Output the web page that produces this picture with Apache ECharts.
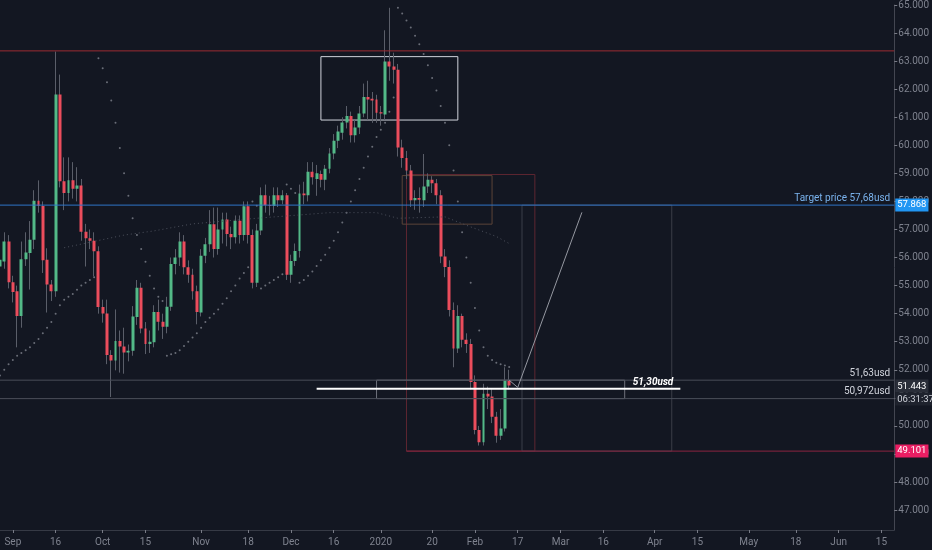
<!DOCTYPE html>
<html>
<head>
<meta charset="utf-8">
<script src="https://cdn.jsdelivr.net/npm/echarts@6/dist/echarts.min.js"></script>
<style>
html, body { margin: 0; padding: 0; background: #131722; }
#chart { width: 932px; height: 550px; }
</style>
</head>
<body>
<div id="chart"></div>
<script>
// daily candles, 2019-08-28 .. 2020-02-13
var openVals = [
	55.68, 55.86, 56.57, 55.12, 54.80, 53.92, 55.94, 56.16, 56.63, 58.02,
	57.84, 55.92, 55.04, 54.80, 61.81, 58.72, 58.30, 58.75, 58.45, 58.57,
	56.92, 56.69, 56.60, 56.22, 54.24, 54.01, 52.53, 52.33, 53.03, 52.83,
	52.62, 52.68, 53.88, 54.92, 53.47, 52.92, 52.98, 54.06, 53.71, 53.53,
	54.25, 55.77, 56.00, 56.57, 55.65, 55.39, 54.80, 54.04, 56.06, 56.47,
	57.19, 56.30, 57.00, 57.36, 56.84, 56.72, 57.31, 56.80, 57.83, 56.80,
	55.10, 56.96, 58.22, 57.86, 57.84, 58.22, 58.04, 58.22, 55.39, 55.88,
	56.23, 58.28, 58.22, 59.06, 58.80, 58.98, 58.77, 59.16, 59.71, 60.16,
	60.45, 60.81, 61.04, 60.36, 60.63, 61.13, 61.72, 61.66, 61.63, 61.18,
	61.10, 62.99, 62.81, 62.69, 59.92, 59.55, 59.10, 58.04, 58.12, 58.04,
	58.53, 58.77, 58.65, 58.22, 56.04, 55.66, 54.13, 52.76, 53.92, 53.07,
	52.92, 51.56, 49.85, 49.42, 51.15, 51.05, 50.33, 49.65, 49.91, 51.62
];
var closeVals = [
	55.92, 56.57, 55.12, 54.77, 53.92, 55.94, 56.18, 56.63, 58.02, 57.84,
	55.90, 55.04, 54.80, 61.81, 58.72, 58.30, 58.75, 58.45, 58.57, 56.92,
	56.69, 56.60, 56.22, 54.24, 54.01, 52.53, 52.33, 53.03, 52.83, 52.62,
	52.68, 53.90, 54.92, 53.47, 52.92, 53.00, 54.06, 53.71, 53.53, 54.25,
	55.77, 56.00, 56.57, 55.65, 55.39, 54.80, 54.06, 56.06, 56.47, 57.19,
	56.30, 57.00, 57.36, 56.84, 56.72, 57.31, 56.80, 57.83, 56.80, 55.10,
	56.96, 58.22, 57.86, 57.84, 58.22, 58.04, 58.22, 55.39, 55.88, 56.23,
	58.28, 58.22, 59.06, 58.86, 59.00, 58.77, 59.16, 59.71, 60.16, 60.49,
	60.81, 61.04, 60.36, 60.63, 61.13, 61.72, 61.63, 61.60, 61.16, 61.13,
	62.99, 62.81, 62.69, 59.92, 59.55, 59.10, 58.04, 58.12, 58.06, 58.53,
	58.77, 58.65, 58.22, 56.04, 55.66, 54.13, 52.76, 53.92, 53.07, 52.92,
	51.56, 49.85, 49.42, 51.15, 51.05, 50.33, 49.65, 49.91, 51.62, 51.44
];
var lowVals = [
	55.40, 55.60, 54.90, 54.40, 52.80, 53.50, 55.70, 54.86, 56.30, 57.60,
	55.45, 54.04, 54.45, 54.60, 58.50, 57.69, 58.00, 58.10, 58.00, 56.60,
	55.68, 56.30, 55.33, 54.00, 53.68, 52.20, 51.03, 51.98, 51.90, 51.86,
	52.30, 52.50, 53.60, 53.30, 52.56, 52.60, 52.80, 53.40, 53.10, 53.30,
	54.10, 55.40, 55.70, 55.40, 55.10, 54.50, 53.62, 53.90, 55.80, 56.20,
	56.00, 56.10, 56.50, 56.40, 56.30, 56.50, 56.50, 56.60, 56.50, 54.90,
	54.95, 56.80, 57.60, 57.50, 57.60, 57.80, 57.90, 55.20, 55.10, 55.70,
	56.00, 57.90, 58.00, 58.60, 58.20, 58.50, 58.40, 59.00, 59.50, 59.90,
	60.20, 60.60, 60.10, 60.10, 60.40, 61.00, 60.90, 60.80, 60.80, 60.70,
	60.90, 62.30, 62.20, 59.60, 59.20, 58.80, 57.80, 57.70, 57.60, 57.80,
	58.30, 58.30, 57.90, 55.80, 55.30, 53.90, 52.09, 52.60, 52.80, 52.60,
	51.30, 49.70, 49.30, 49.30, 50.60, 50.10, 49.40, 49.50, 49.80, 51.30
];
var highVals = [
	56.10, 56.90, 56.80, 55.35, 55.00, 56.57, 56.90, 57.30, 58.40, 58.75,
	58.00, 56.33, 55.20, 63.34, 62.52, 59.57, 59.57, 59.40, 59.22, 58.80,
	57.20, 57.00, 56.90, 56.40, 54.50, 54.50, 52.70, 54.15, 53.40, 53.50,
	52.90, 54.27, 55.20, 55.10, 53.70, 53.40, 54.30, 54.50, 54.00, 54.60,
	56.00, 56.30, 56.90, 56.80, 55.90, 55.60, 55.00, 56.30, 56.70, 57.69,
	57.78, 57.78, 57.60, 57.60, 57.10, 57.50, 57.50, 58.00, 58.00, 57.00,
	57.20, 58.50, 58.60, 58.20, 58.50, 58.50, 58.40, 58.30, 56.10, 56.50,
	58.60, 58.70, 59.40, 59.40, 59.30, 59.10, 59.30, 59.90, 60.40, 60.70,
	61.00, 61.40, 61.20, 60.90, 61.40, 62.20, 62.30, 61.90, 61.80, 61.40,
	64.10, 64.90, 63.30, 62.90, 60.20, 59.80, 59.30, 58.40, 58.50, 59.69,
	59.00, 58.90, 58.80, 58.40, 56.30, 55.90, 54.40, 54.30, 54.00, 53.30,
	53.10, 51.80, 50.00, 51.50, 51.40, 51.30, 50.50, 50.60, 52.09, 52.00
];
// parabolic SAR dots, one per candle
var sarVals = [
	51.8, 52.0, 52.2, 52.35, 52.5, 52.6, 52.7, 52.8, 52.95, 53.1,
	53.3, 53.5, 53.7, 54.0, 54.3, 54.5, 54.6, 54.7, 54.85, 55.0,
	55.1, 55.2, 55.3, 63.1, 62.75, 62.25, 61.6, 60.8, 59.9, 59.0,
	58.2, 57.4, 56.8, 56.3, 55.85, 55.35, 54.9, 54.6, 54.45, 52.5,
	52.55, 52.6, 52.7, 52.85, 53.0, 53.15, 53.3, 53.5, 53.7, 53.85,
	54.0, 54.15, 54.35, 54.55, 54.8, 55.0, 55.25, 55.45, 55.65, 58.0,
	57.85, 54.9, 55.0, 55.1, 55.2, 55.3, 55.4, 58.6, 58.45, 58.3,
	55.1, 55.2, 55.35, 55.5, 55.7, 55.9, 56.1, 56.35, 56.6, 56.9,
	57.25, 57.6, 58.0, 58.4, 58.8, 59.2, 59.6, 59.95, 60.3, 60.55,
	60.8, 61.2, 61.7, 64.9, 64.7, 64.45, 64.2, 63.9, 63.6, 63.25,
	62.85, 62.4, 61.95, 61.4, 60.8, 60.0, 59.1, 58.0, 56.9, 56.0,
	55.1, 54.2, 53.4, 52.8, 52.5, 52.35, 52.25, 52.2, 52.15, 52.1
];
// slow moving average (dotted), read at a few dates
var maDates = ['2019-09-18', '2019-10-08', '2019-10-17', '2019-10-30', '2019-11-20', '2019-12-13',
	'2019-12-31', '2020-01-08', '2020-01-23', '2020-01-30', '2020-02-10', '2020-02-13'];
var maVals = [56.35, 56.8, 56.95, 57.2, 57.4, 57.6, 57.6, 57.4, 57.45, 57.15, 56.75, 56.5];

var tickDates = ['2019-09-02', '2019-09-16', '2019-10-01', '2019-10-15', '2019-11-01', '2019-11-18',
	'2019-12-02', '2019-12-16', '2020-01-02', '2020-01-20', '2020-02-03', '2020-02-17', '2020-03-02',
	'2020-03-16', '2020-04-01', '2020-04-15', '2020-05-01', '2020-05-18', '2020-06-01', '2020-06-15'];
var tickTexts = ['Sep', '16', 'Oct', '15', 'Nov', '18', 'Dec', '16', '2020', '20', 'Feb', '17', 'Mar',
	'16', 'Apr', '15', 'May', '18', 'Jun', '15'];

// drawn levels
var resistanceLevel = 63.365;
var targetLevel = 57.868;
var upperBoxLevel = 51.63;
var lowerBoxLevel = 50.972;
var entryLevel = 51.32;
var lastPrice = 51.443;
var supportLevel = 49.101;

// trading days: weekdays without the two exchange holidays
var holidays = ['2019-12-25', '2020-01-01'];
var dates = [];
var day = new Date(Date.UTC(2019, 7, 28));
var lastDay = new Date(Date.UTC(2020, 5, 18));
while (day <= lastDay) {
	var wd = day.getUTCDay();
	var s = day.toISOString().slice(0, 10);
	if (wd !== 0 && wd !== 6 && holidays.indexOf(s) < 0) dates.push(s);
	day.setUTCDate(day.getUTCDate() + 1);
}
var firstDate = dates[0];
var endDate = dates[dates.length - 1];

var candleData = [];
for (var i = 0; i < openVals.length; i++) {
	candleData.push([openVals[i], closeVals[i], lowVals[i], highVals[i]]);
}
var maData = [];
for (var j = 0; j < maDates.length; j++) {
	maData.push([maDates[j], maVals[j]]);
}

function isTick(idx, value) {
	return tickDates.indexOf(value) >= 0;
}

function box(d1, p1, d2, p2, color) {
	return [
		{ coord: [d1, p1], itemStyle: { color: 'rgba(0,0,0,0)', borderColor: color, borderWidth: 1 } },
		{ coord: [d2, p2] }
	];
}

var textFont = 'Roboto';

// one drawn segment as its own line series; endLabel carries the text
function drawing(d1, p1, d2, p2, color, width, endLabel) {
	return {
		type: 'line',
		data: [[d1, p1], [d2, p2]],
		symbol: 'none',
		silent: true,
		clip: false,
		z: 4,
		lineStyle: { color: color, width: width, type: 'solid' },
		endLabel: endLabel || { show: false }
	};
}
// price tag on the axis
function tag(text, bg) {
	return { show: true, distance: 1, formatter: text, color: '#ffffff', backgroundColor: bg,
		padding: [2, 2, 1, 2], fontSize: 9.5, fontFamily: textFont };
}
// text sitting on a line, right aligned to its end
function note(text, color, extra) {
	var l = { show: true, distance: 0, align: 'right', verticalAlign: 'bottom', offset: [-4, -2],
		formatter: text, color: color, fontSize: 10, fontFamily: textFont };
	for (var k in extra) l[k] = extra[k];
	return l;
}
var clear = 'rgba(0,0,0,0)';

var chart = echarts.init(document.getElementById('chart'));
var option = {
	backgroundColor: '#131722',
	animation: false,
	grid: { left: 0, right: 32, top: 0, bottom: 20 },
	xAxis: {
		type: 'category',
		data: dates,
		boundaryGap: false,
		axisLine: { lineStyle: { color: '#363a45' } },
		axisTick: { show: true, interval: isTick, length: 3, lineStyle: { color: '#787b86' } },
		axisLabel: {
			interval: isTick,
			formatter: function (v) { return tickTexts[tickDates.indexOf(v)]; },
			color: '#7f838f',
			fontSize: 10,
			fontFamily: textFont,
			margin: 7
		},
		splitLine: { show: false }
	},
	yAxis: {
		type: 'value',
		position: 'right',
		min: 46.29,
		max: 65.0,
		minInterval: 1,
		maxInterval: 1,
		axisLine: { show: true, lineStyle: { color: '#434651' } },
		axisTick: { show: true, length: 3, lineStyle: { color: '#787b86' } },
		axisLabel: {
			showMinLabel: false,
			formatter: function (v) { return v.toFixed(3); },
			color: '#7f838f',
			fontSize: 10,
			fontFamily: textFont,
			margin: 4
		},
		splitLine: { show: false }
	},
	series: [
		{
			// wicks
			type: 'candlestick',
			data: candleData,
			barWidth: 1,
			silent: true,
			itemStyle: {
				color: '#5a5e69', color0: '#5a5e69',
				borderColor: '#5a5e69', borderColor0: '#5a5e69', borderWidth: 1
			}
		},
		{
			type: 'line',
			data: maData,
			symbol: 'none',
			silent: true,
			lineStyle: { color: '#4c505c', width: 1, type: [1, 3] }
		},
		{
			type: 'scatter',
			data: sarVals,
			symbol: 'circle',
			symbolSize: 2,
			silent: true,
			itemStyle: { color: '#80838d' }
		},
		{
			// bodies + rectangles
			type: 'candlestick',
			data: candleData,
			barWidth: 3.4,
			clip: false,
			itemStyle: {
				color: '#53b987', color0: '#eb4d5c',
				borderColor: '#53b987', borderColor0: '#eb4d5c', borderWidth: 0
			},
			markArea: {
				silent: true,
				label: { show: false },
				data: [
					box('2019-12-11', 63.16, '2020-01-28', 60.9, '#d1d4dc'),
					box('2020-01-10', 58.96, '2020-02-21', supportLevel, '#5e2731'),
					box('2020-01-09', 58.92, '2020-02-07', 57.19, '#5b4438'),
					box('2020-02-18', targetLevel, '2020-04-07', supportLevel, '#3b3e48'),
					box('2019-12-31', upperBoxLevel, '2020-03-23', lowerBoxLevel, '#6f727c')
				]
			}
		},
		drawing(firstDate, resistanceLevel, endDate, resistanceLevel, '#9c2c33', 1),
		drawing(firstDate, upperBoxLevel, endDate, upperBoxLevel, '#4a4e59', 1, note('51,63usd', '#d1d4dc')),
		drawing(firstDate, lowerBoxLevel, endDate, lowerBoxLevel, '#4a4e59', 1, note('50,972usd', '#d1d4dc')),
		drawing(firstDate, targetLevel, endDate, targetLevel, '#2f74c8', 1, tag(targetLevel.toFixed(3), '#2196f3')),
		drawing(firstDate, targetLevel, endDate, targetLevel, clear, 1, note('Target price 57,68usd', '#7ab3ee')),
		drawing('2020-01-10', supportLevel, endDate, supportLevel, '#8c2440', 1, tag(supportLevel.toFixed(3), '#e91e63')),
		drawing(firstDate, lastPrice, endDate, lastPrice, clear, 1, {
			show: true, distance: 1, offset: [0, 7],
			formatter: '{a|' + lastPrice.toFixed(3) + '}\n{b|06:31:37}',
			rich: {
				a: { color: '#ffffff', backgroundColor: '#2a2e39', padding: [2, 2, 1, 2], fontSize: 9.5, fontFamily: textFont },
				b: { color: '#d1d4dc', backgroundColor: '#1e222d', padding: [2, 2, 1, 2], fontSize: 9.5, fontFamily: textFont }
			}
		}),
		drawing('2019-12-10', entryLevel, '2020-04-09', entryLevel, '#ffffff', 2,
			note('51,30usd', '#ffffff', { fontStyle: 'italic', fontWeight: 'bold', offset: [-7, -1] })),
		drawing('2020-02-17', 51.37, '2020-03-09', 57.61, '#9598a1', 1),
		drawing('2020-02-13', 51.63, '2020-02-17', 51.37, '#9598a1', 1)
	]
};
chart.setOption(option);
</script>
</body>
</html>
